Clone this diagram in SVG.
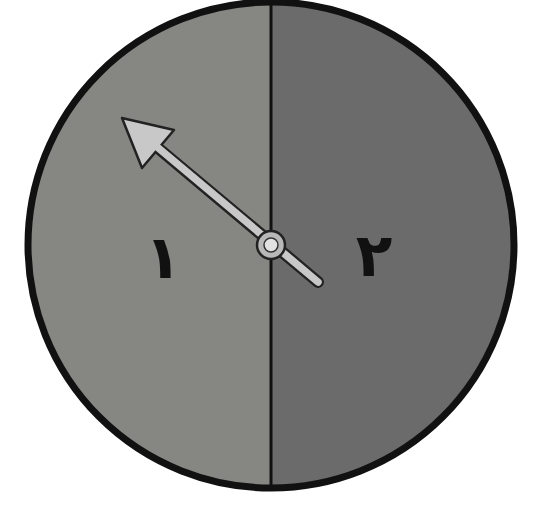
<svg xmlns="http://www.w3.org/2000/svg" width="536" height="506" viewBox="0 0 536 506">
<style>
.lbl{font-family:"DejaVu Sans","Noto Sans",sans-serif;font-weight:bold;font-size:60px;fill:#111;text-anchor:middle}
</style>
<defs>
<clipPath id="c"><circle cx="271" cy="245" r="243"/></clipPath>
</defs>
<rect width="536" height="506" fill="#ffffff"/>
<g id="wheel">
<g clip-path="url(#c)">
<rect x="0" y="0" width="271" height="506" fill="#868683"/>
<rect x="271" y="0" width="265" height="506" fill="#6b6b6b"/>
</g>
<line x1="271" y1="2" x2="271" y2="488" stroke="#111" stroke-width="3"/>
<circle cx="271" cy="245" r="243" fill="none" stroke="#111" stroke-width="7"/>
</g>
<g id="label1"><text class="lbl" x="163" y="278">١</text></g>
<g id="label2"><text class="lbl" x="374" y="276">٢</text></g>
<g id="pointer">
<line x1="318" y1="282" x2="158" y2="148" stroke="#222" stroke-width="12" stroke-linecap="round"/>
<polygon points="122,118 174,130 142,168" fill="#c8c8c8" stroke="#222" stroke-width="2.5" stroke-linejoin="round"/>
<line x1="318" y1="282" x2="150" y2="141" stroke="#c8c8c8" stroke-width="7.5" stroke-linecap="round"/>
<circle cx="271" cy="245" r="14" fill="#b8b8b8" stroke="#222" stroke-width="2.5"/>
<circle cx="271" cy="245" r="7" fill="#e2e2e2" stroke="#333" stroke-width="1.5"/>
</g>
</svg>
